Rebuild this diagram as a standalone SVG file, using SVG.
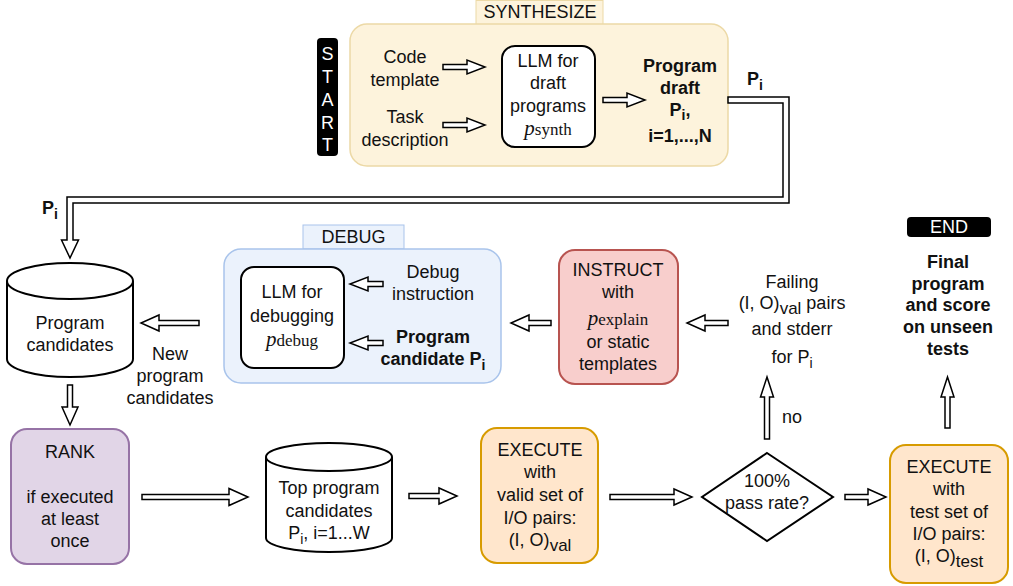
<svg xmlns="http://www.w3.org/2000/svg" width="1013" height="586" viewBox="0 0 1013 586">
<style>
text{font-family:"Liberation Sans",Arial,sans-serif;font-size:18px;fill:#111;text-anchor:middle}
.b{font-weight:bold}
.w{fill:#fff;font-size:18px}
.s{font-size:14px}
.pi{font-family:"Liberation Serif","Times New Roman",serif;font-style:italic;font-size:21px}
.ps{font-family:"Liberation Serif","Times New Roman",serif;font-size:17px}
.fa{fill:#fff;stroke:#000;stroke-width:1.5;stroke-linejoin:miter}
.box{stroke-width:2}
</style>

<g id="synthesize">
<rect x="476" y="0.5" width="127" height="24" fill="#fdf3dc" stroke="#ecd9a6" stroke-width="1"/>
<text x="540" y="18">SYNTHESIZE</text>
<rect x="350" y="24" width="378" height="142" rx="17" fill="#fdf3dc" stroke="#ecd9a6" stroke-width="1.5"/>
</g>

<g id="start">
<rect x="317" y="38" width="21" height="118" rx="4" fill="#000"/>
<text class="w" x="327.5" y="60">S</text>
<text class="w" x="327.5" y="83">T</text>
<text class="w" x="327.5" y="106">A</text>
<text class="w" x="327.5" y="129">R</text>
<text class="w" x="327.5" y="151">T</text>
</g>

<g id="code-template">
<text x="405" y="63">Code</text>
<text x="405" y="86">template</text>
</g>
<g id="task-description">
<text x="405" y="123">Task</text>
<text x="405" y="146">description</text>
</g>

<g id="llm-synth">
<rect class="box" x="502" y="46" width="93" height="101" rx="13" fill="#fff" stroke="#000"/>
<text x="548" y="67">LLM for</text>
<text x="548" y="89">draft</text>
<text x="548" y="112">programs</text>
<text x="548" y="135"><tspan class="pi">p</tspan><tspan class="ps">synth</tspan></text>
</g>

<g id="program-draft">
<text class="b" x="680" y="72">Program</text>
<text class="b" x="680" y="94">draft</text>
<text class="b" x="680" y="116">P<tspan class="s" dy="4">i</tspan><tspan dy="-4">,</tspan></text>
<text class="b" x="680" y="142">i=1,...,N</text>
</g>

<g id="debug">
<rect x="303" y="225" width="101" height="24" fill="#ebf2fc" stroke="#a9c4eb" stroke-width="1"/>
<text x="353.5" y="243">DEBUG</text>
<rect x="224" y="249" width="277" height="134" rx="17" fill="#ebf2fc" stroke="#a9c4eb" stroke-width="1.5"/>
</g>

<g id="llm-debug">
<rect class="box" x="241" y="267" width="103" height="101" rx="13" fill="#fff" stroke="#000"/>
<text x="292" y="298">LLM for</text>
<text x="292" y="322">debugging</text>
<text x="292" y="346"><tspan class="pi">p</tspan><tspan class="ps">debug</tspan></text>
</g>

<g id="debug-instruction">
<text x="433" y="278">Debug</text>
<text x="433" y="300">instruction</text>
</g>
<g id="program-candidate">
<text class="b" x="433" y="343">Program</text>
<text class="b" x="433" y="365">candidate P<tspan class="s" dy="5">i</tspan></text>
</g>

<g id="program-candidates">
<path d="M7,281 A63,18 0 0 1 133,281 V359 A63,18 0 0 1 7,359 Z" fill="#fff" stroke="#000" stroke-width="2"/>
<path d="M7,281 A63,18 0 0 0 133,281" fill="none" stroke="#000" stroke-width="2"/>
<text x="70" y="329">Program</text>
<text x="70" y="351">candidates</text>
</g>

<g id="new-program-candidates">
<text x="170" y="360">New</text>
<text x="170" y="382">program</text>
<text x="170" y="404">candidates</text>
</g>

<g id="instruct">
<rect class="box" x="559" y="250" width="119" height="134" rx="16" fill="#f8cecc" stroke="#b85450"/>
<text x="618" y="276">INSTRUCT</text>
<text x="618" y="298">with</text>
<text x="618" y="325"><tspan class="pi">p</tspan><tspan class="ps">explain</tspan></text>
<text x="618" y="348">or static</text>
<text x="618" y="370">templates</text>
</g>

<g id="failing">
<text x="792" y="288">Failing</text>
<text x="792" y="309">(I, O)<tspan style="font-size:17px" dy="5">val</tspan><tspan dy="-5"> pairs</tspan></text>
<text x="792" y="335">and stderr</text>
<text x="792" y="363">for P<tspan class="s" dy="5">i</tspan></text>
</g>

<g id="end">
<rect x="907" y="217" width="84" height="20" rx="4" fill="#000"/>
<text class="w" x="949" y="233">END</text>
</g>

<g id="final">
<text class="b" x="948" y="268">Final</text>
<text class="b" x="948" y="290">program</text>
<text class="b" x="948" y="311">and score</text>
<text class="b" x="948" y="333">on unseen</text>
<text class="b" x="948" y="355">tests</text>
</g>

<g id="rank">
<rect class="box" x="11" y="429" width="118" height="135" rx="16" fill="#e1d5e7" stroke="#9673a6"/>
<text x="70" y="458">RANK</text>
<text x="70" y="503">if executed</text>
<text x="70" y="525">at least</text>
<text x="70" y="547">once</text>
</g>

<g id="top-candidates">
<path d="M266,457 A63,14 0 0 1 392,457 V538 A63,14 0 0 1 266,538 Z" fill="#fff" stroke="#000" stroke-width="2"/>
<path d="M266,457 A63,14 0 0 0 392,457" fill="none" stroke="#000" stroke-width="2"/>
<text x="329" y="494">Top program</text>
<text x="329" y="517">candidates</text>
<text x="329" y="539">P<tspan class="s" dy="5">i</tspan><tspan dy="-5">, i=1...W</tspan></text>
</g>

<g id="execute-valid">
<rect class="box" x="481" y="428" width="117" height="135" rx="16" fill="#ffe6cc" stroke="#d79b00"/>
<text x="540" y="456">EXECUTE</text>
<text x="540" y="478">with</text>
<text x="540" y="501">valid set of</text>
<text x="540" y="524">I/O pairs:</text>
<text x="540" y="546">(I, O)<tspan style="font-size:17px" dy="5">val</tspan></text>
</g>

<g id="pass-rate">
<polygon points="767,453 833,497 767,541 702,497" fill="#fff" stroke="#000" stroke-width="2"/>
<text x="767" y="487">100%</text>
<text x="767" y="509">pass rate?</text>
</g>

<g id="execute-test">
<rect class="box" x="890" y="445" width="118" height="138" rx="16" fill="#ffe6cc" stroke="#d79b00"/>
<text x="949" y="473">EXECUTE</text>
<text x="949" y="495">with</text>
<text x="949" y="518">test set of</text>
<text x="949" y="540">I/O pairs:</text>
<text x="949" y="562">(I, O)<tspan style="font-size:17px" dy="5">test</tspan></text>
</g>

<g id="connectors">
<polygon class="fa" points="443,64.5 467,64.5 467,60 485,67 467,74 467,69.5 443,69.5"/>
<polygon class="fa" points="443,122.5 467,122.5 467,118 485,125 467,132 467,127.5 443,127.5"/>
<polygon class="fa" points="603,97.5 627,97.5 627,93 645,100 627,107 627,102.5 603,102.5"/>
<polygon class="fa" points="728,97 789,97 789,203 73,203 73,240 78.5,240 70,258 61.5,240 67,240 67,197 783,197 783,103 728,103"/>
<text class="b" x="755" y="85">P<tspan class="s" dy="5">i</tspan></text>
<text class="b" x="50" y="214">P<tspan class="s" dy="5">i</tspan></text>
<polygon class="fa" points="383,281.5 368,281.5 368,277 350,284 368,291 368,286.5 383,286.5"/>
<polygon class="fa" points="383,340.5 368,340.5 368,336 350,343 368,350 368,345.5 383,345.5"/>
<polygon class="fa" points="199,320.5 159,320.5 159,315 141,323 159,331 159,325.5 199,325.5"/>
<polygon class="fa" points="551,320.5 529,320.5 529,315 511,323 529,331 529,325.5 551,325.5"/>
<polygon class="fa" points="728,320.5 705,320.5 705,315 687,323 705,331 705,325.5 728,325.5"/>
<polygon class="fa" points="67.5,385 67.5,407 62,407 70,425 78,407 72.5,407 72.5,385"/>
<polygon class="fa" points="142,494.5 229,494.5 229,488.5 248,497 229,505.5 229,499.5 142,499.5"/>
<polygon class="fa" points="409,493.5 439,493.5 439,488 457,496 439,504 439,498.5 409,498.5"/>
<polygon class="fa" points="610,494.5 674,494.5 674,489 692,497 674,505 674,499.5 610,499.5"/>
<polygon class="fa" points="845,494.5 868,494.5 868,489 886,497 868,505 868,499.5 845,499.5"/>
<polygon class="fa" points="764.5,439 764.5,397 760.5,397 767,377 773.5,397 769.5,397 769.5,439"/>
<text x="792" y="423">no</text>
<polygon class="fa" points="945,428 945,397 941,397 947.5,377 954,397 950,397 950,428"/>
</g>
</svg>
